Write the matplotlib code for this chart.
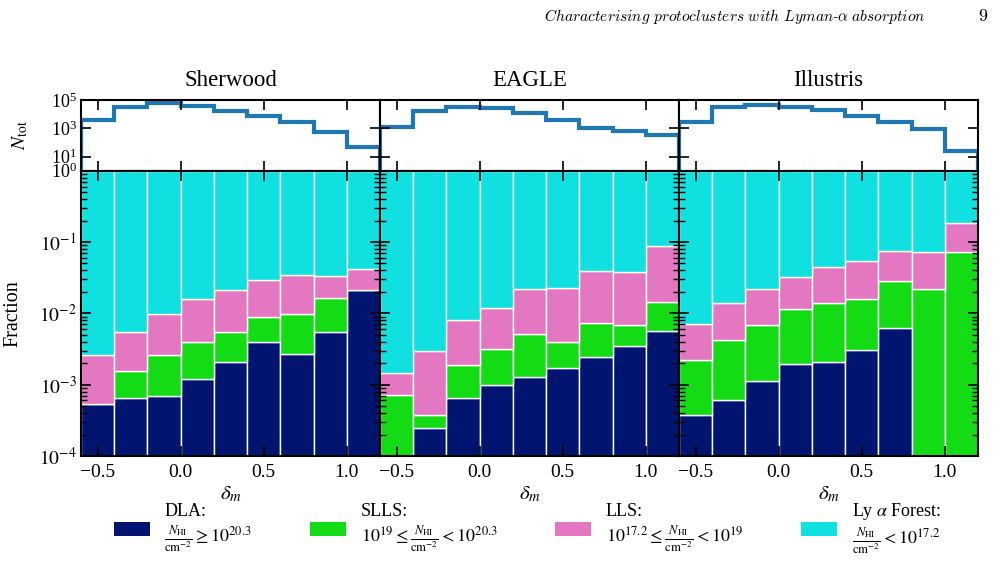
import numpy as np
import matplotlib
matplotlib.use("Agg")
import matplotlib.pyplot as plt
from matplotlib.patches import Patch
from matplotlib.ticker import LogLocator, NullFormatter, FixedLocator

plt.rcParams["font.family"] = ["Liberation Serif", "DejaVu Serif"]
plt.rcParams["mathtext.fontset"] = "stix"
plt.rcParams["xtick.direction"] = "in"
plt.rcParams["ytick.direction"] = "in"

# bin edges in delta_m
edges = np.array([-0.6, -0.4, -0.2, 0.0, 0.2, 0.4, 0.6, 0.8, 1.0, 1.2])
sims = ["Sherwood", "EAGLE", "Illustris"]

# log10 of total number of sightlines per bin
log_ntot_sherwood = [3.59, 4.49, 4.77, 4.60, 4.25, 3.87, 3.47, 2.76, 1.66]
log_ntot_eagle = [3.11, 4.25, 4.49, 4.42, 4.06, 3.59, 3.04, 2.81, 2.53]
log_ntot_illustris = [3.47, 4.49, 4.65, 4.53, 4.30, 3.87, 3.47, 2.93, 1.42]

# fractions of absorber classes (forest fills the rest up to 1)
dla_sherwood = [5.3e-4, 6.6e-4, 6.9e-4, 1.2e-3, 2.05e-3, 4.0e-3, 2.66e-3, 5.5e-3, 0.021]
slls_sherwood = [0, 8.9e-4, 1.9e-3, 2.76e-3, 3.35e-3, 4.9e-3, 7.2e-3, 0.011, 0]
lls_sherwood = [2.07e-3, 3.85e-3, 7.1e-3, 0.012, 0.0156, 0.0201, 0.0251, 0.0165, 0.021]

dla_eagle = [0, 2.5e-4, 6.6e-4, 9.9e-4, 1.28e-3, 1.7e-3, 2.46e-3, 3.5e-3, 5.7e-3]
slls_eagle = [7.1e-4, 1.2e-4, 1.24e-3, 2.2e-3, 3.9e-3, 2.26e-3, 4.9e-3, 3.4e-3, 8.6e-3]
lls_eagle = [7.3e-4, 2.59e-3, 6.2e-3, 8.6e-3, 0.0168, 0.0187, 0.0323, 0.0311, 0.0747]

dla_illustris = [3.7e-4, 6.1e-4, 1.12e-3, 1.95e-3, 2.1e-3, 3.1e-3, 6.2e-3, 0, 0]
slls_illustris = [1.83e-3, 3.6e-3, 5.7e-3, 9.5e-3, 0.0117, 0.0129, 0.0218, 0.0216, 0.0724]
lls_illustris = [4.9e-3, 9.8e-3, 0.0152, 0.021, 0.0302, 0.039, 0.046, 0.05, 0.11]

log_ntot = [log_ntot_sherwood, log_ntot_eagle, log_ntot_illustris]
dla = [dla_sherwood, dla_eagle, dla_illustris]
slls = [slls_sherwood, slls_eagle, slls_illustris]
lls = [lls_sherwood, lls_eagle, lls_illustris]

colors = {"DLA": "#001470", "SLLS": "#14dc14", "LLS": "#e377c2", "Forest": "#10e0e0"}
labels = {
    "DLA": "DLA:\n$\\frac{N_{\\rm HI}}{\\rm cm^{-2}}\\geq 10^{20.3}$",
    "SLLS": "SLLS:\n$10^{19}\\leq\\frac{N_{\\rm HI}}{\\rm cm^{-2}}<10^{20.3}$",
    "LLS": "LLS:\n$10^{17.2}\\leq\\frac{N_{\\rm HI}}{\\rm cm^{-2}}<10^{19}$",
    "Forest": "Ly $\\alpha$ Forest:\n$\\frac{N_{\\rm HI}}{\\rm cm^{-2}}<10^{17.2}$",
}

fig = plt.figure(figsize=(9.99, 5.73), dpi=100)

left0 = 0.0811
w = 0.2993
width = np.diff(edges)

for i, name in enumerate(sims):
    x0 = left0 + i * w
    ax_top = fig.add_axes([x0, 0.7021, w, 0.1234])
    ax = fig.add_axes([x0, 0.2042, w, 0.4979])

    # top: total counts
    ax_top.stairs(10 ** np.array(log_ntot[i]), edges, baseline=1, color="#1f77b4", lw=3)
    ax_top.set_yscale("log")
    ax_top.set_ylim(1, 1e5)
    ax_top.set_xlim(-0.6, 1.2)
    ax_top.yaxis.set_major_locator(FixedLocator([1, 10, 1e3, 1e5]))
    ax_top.yaxis.set_minor_locator(FixedLocator([]))
    ax_top.tick_params(which="both", top=True, right=True, labelbottom=False,
                       length=7, width=1.2, labelsize=13, pad=3)
    ax_top.set_xticks([-0.5, 0.0, 0.5, 1.0])
    ax_top.set_title(name, fontsize=16.5, pad=10)
    if i == 0:
        ax_top.set_ylabel("$N_{\\rm tot}$", fontsize=14)
        ax_top.yaxis.set_label_coords(-0.17, 0.5)
    else:
        ax_top.tick_params(labelleft=False)
    for s in ax_top.spines.values():
        s.set_linewidth(1.5)

    # bottom: stacked fractions
    d = np.array(dla[i])
    s_ = np.array(slls[i])
    l_ = np.array(lls[i])
    c1 = d
    c2 = c1 + s_
    c3 = c2 + l_
    ax.bar(edges[:-1], c1, width=width, align="edge", color=colors["DLA"],
           edgecolor="white", linewidth=1)
    ax.bar(edges[:-1], c2 - c1, bottom=c1, width=width, align="edge",
           color=colors["SLLS"], edgecolor="white", linewidth=1)
    ax.bar(edges[:-1], c3 - c2, bottom=c2, width=width, align="edge",
           color=colors["LLS"], edgecolor="white", linewidth=1)
    ax.bar(edges[:-1], 1 - c3, bottom=c3, width=width, align="edge",
           color=colors["Forest"], edgecolor="white", linewidth=1)
    ax.set_yscale("log")
    ax.set_ylim(1e-4, 1)
    ax.set_xlim(-0.6, 1.2)
    ax.set_xticks([-0.5, 0.0, 0.5, 1.0])
    ax.yaxis.set_major_locator(FixedLocator([1e-4, 1e-3, 1e-2, 1e-1, 1]))
    ax.yaxis.set_minor_locator(LogLocator(base=10, subs=np.arange(2, 10)))
    ax.yaxis.set_minor_formatter(NullFormatter())
    ax.tick_params(which="major", top=True, right=True, length=7, width=1.2,
                   labelsize=14, pad=6)
    ax.tick_params(which="minor", top=True, right=True, length=4, width=1)
    ax.set_xlabel("$\\delta_m$", fontsize=15, labelpad=2)
    if i == 0:
        ax.set_ylabel("Fraction", fontsize=14.5)
        ax.yaxis.set_label_coords(-0.197, 0.5)
        ax.set_yticklabels(["$10^{-4}$", "$10^{-3}$", "$10^{-2}$", "$10^{-1}$", ""])
        ax.tick_params(axis="y", pad=3)
    else:
        ax.tick_params(labelleft=False)
    for s in ax.spines.values():
        s.set_linewidth(1.5)

handles = [Patch(facecolor=colors[k], label=labels[k]) for k in ["DLA", "SLLS", "LLS", "Forest"]]
fig.legend(handles=handles, loc="center", bbox_to_anchor=(0.528, 0.077), ncol=4,
           frameon=False, fontsize=13, handlelength=2.0, handleheight=0.8,
           columnspacing=3.2, handletextpad=0.8)

fig.text(0.926, 0.972,
         "$\\mathit{Characterising\\ protoclusters\\ with\\ Lyman}$-$\\alpha$ $\\mathit{absorption}$",
         fontsize=11.2, va="center", ha="right", math_fontfamily="cm")
fig.text(0.989, 0.972, "$9$", fontsize=13, va="center", ha="right", math_fontfamily="cm")

fig.savefig("out.png", dpi=100)
